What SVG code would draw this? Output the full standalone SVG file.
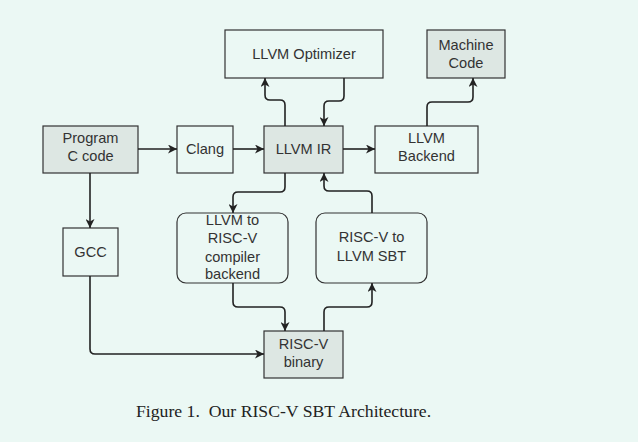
<svg xmlns="http://www.w3.org/2000/svg" width="638" height="442" viewBox="0 0 638 442">
<style>
.bg{fill:#ebf8f4}
.box{fill:#ebf8f4;stroke:#333;stroke-width:1.2}
.g{fill:#dde7e3}
.t{font-family:"Liberation Sans",Arial,sans-serif;font-size:14.6px;fill:#333;text-anchor:middle}
.c{fill:none;stroke:#222;stroke-width:1.6}
.cap{font-family:"Liberation Serif","Times New Roman",serif;font-size:17.7px;fill:#222}
</style>
<defs>
<marker id="a" markerUnits="userSpaceOnUse" markerWidth="10" markerHeight="9" refX="9" refY="4.5" orient="auto">
<path d="M0,0 L9,4.5 L0,9 L2.5,4.5 z" fill="#222"/>
</marker>
</defs>
<rect class="bg" x="0" y="0" width="638" height="442"/>
<g id="optimizer"><rect class="box" x="225" y="30" width="158" height="48"/><text class="t" x="304" y="59">LLVM Optimizer</text></g>
<g id="machine"><rect class="box g" x="427" y="30" width="78" height="48"/><text class="t" x="466" y="50">Machine</text><text class="t" x="466" y="68">Code</text></g>
<g id="program"><rect class="box g" x="43" y="126" width="95" height="47"/><text class="t" x="90.5" y="143">Program</text><text class="t" x="90.5" y="161">C code</text></g>
<g id="clang"><rect class="box" x="177" y="126" width="56" height="47"/><text class="t" x="205" y="154">Clang</text></g>
<g id="llvmir"><rect class="box g" x="264" y="126" width="79" height="47"/><text class="t" x="303.5" y="154">LLVM IR</text></g>
<g id="backend"><rect class="box" x="375" y="126" width="103" height="47"/><text class="t" x="426.5" y="143">LLVM</text><text class="t" x="426.5" y="161">Backend</text></g>
<g id="gcc"><rect class="box" x="63" y="228" width="55" height="48"/><text class="t" x="90.5" y="257">GCC</text></g>
<g id="tocompiler"><rect class="box" x="177" y="213" width="111" height="70" rx="9"/><text class="t" x="232.5" y="225">LLVM to</text><text class="t" x="232.5" y="243">RISC-V</text><text class="t" x="232.5" y="262">compiler</text><text class="t" x="232.5" y="279">backend</text></g>
<g id="sbt"><rect class="box" x="316" y="213" width="111" height="70" rx="9"/><text class="t" x="371.5" y="242">RISC-V to</text><text class="t" x="371.5" y="261">LLVM SBT</text></g>
<g id="binary"><rect class="box g" x="264" y="331" width="79" height="47"/><text class="t" x="303.5" y="349">RISC-V</text><text class="t" x="303.5" y="367">binary</text></g>
<g id="connectors">
<path class="c" d="M138,149 H177" marker-end="url(#a)"/>
<path class="c" d="M233,149 H264" marker-end="url(#a)"/>
<path class="c" d="M285,126 V105 Q285,100 280,100 H270 Q265,100 265,95 V78" marker-end="url(#a)"/>
<path class="c" d="M344,78 V96 Q344,101 339,101 H329 Q324,101 324,106 V126" marker-end="url(#a)"/>
<path class="c" d="M343,149 H375" marker-end="url(#a)"/>
<path class="c" d="M427,126 V107 Q427,102 432,102 H468 Q473,102 473,97 V78" marker-end="url(#a)"/>
<path class="c" d="M285,173 V187 Q285,192 280,192 H238 Q233,192 233,197 V213" marker-end="url(#a)"/>
<path class="c" d="M372,213 V196 Q372,191 367,191 H329 Q324,191 324,186 V173" marker-end="url(#a)"/>
<path class="c" d="M90,173 V228" marker-end="url(#a)"/>
<path class="c" d="M90,276 V349 Q90,354 95,354 H264" marker-end="url(#a)"/>
<path class="c" d="M233,283 V302 Q233,307 238,307 H280 Q285,307 285,312 V331" marker-end="url(#a)"/>
<path class="c" d="M324,331 V312 Q324,307 329,307 H367 Q372,307 372,302 V283" marker-end="url(#a)"/>
</g>
<text class="cap" x="136" y="417" xml:space="preserve">Figure 1.  Our RISC-V SBT Architecture.</text>
</svg>
